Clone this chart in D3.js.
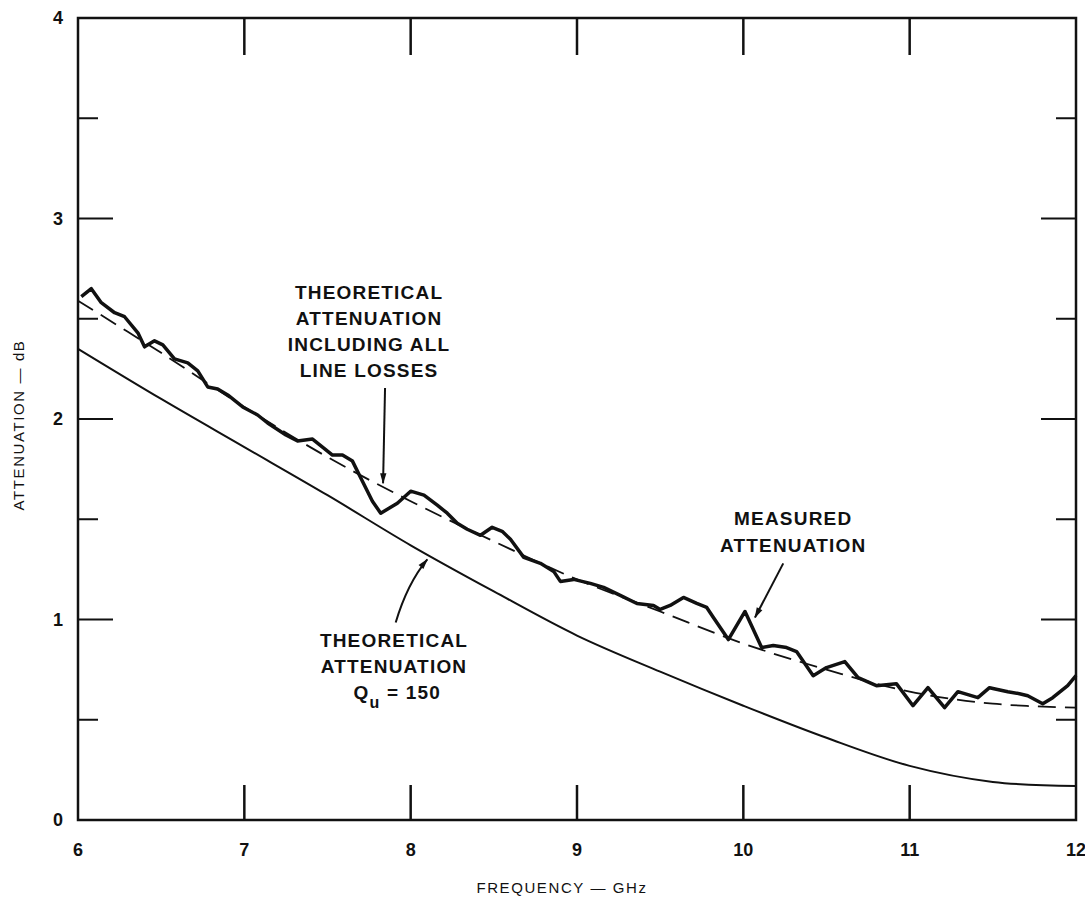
<!DOCTYPE html>
<html lang="en">
<head>
  <meta charset="UTF-8">
  <script src="https://d3js.org/d3.v7.min.js"></script>
  <title>Attenuation vs Frequency</title>
  <style>
    body {
      margin: 0;
      background: #fff;
      font-family: "Liberation Sans", Arial, sans-serif;
    }
    .tick-label {
      font-size: 18px;
      font-weight: bold;
      fill: #111;
    }
    .note {
      font-size: 19px;
      font-weight: bold;
      letter-spacing: 1.2px;
      fill: #111;
    }
    .axis-title {
      font-size: 15px;
      letter-spacing: 1.6px;
      fill: #111;
    }
  </style>
</head>
<body>
<script>

  // --- data ---
  const xTicks = [6, 7, 8, 9, 10, 11, 12];
  const yTicks = [0, 1, 2, 3, 4];
  const yMinorTicks = [0.5, 1.5, 2.5, 3.5];

  // theoretical attenuation, Qu = 150 (solid)
  const theoryFreq = [6, 6.5, 7, 7.5, 8, 8.5, 9, 9.5, 10, 10.5, 11, 11.5, 12];
  const theoryQu = [2.35, 2.10, 1.86, 1.62, 1.37, 1.14, 0.92, 0.74, 0.57, 0.41, 0.27, 0.19, 0.17];
  // theoretical attenuation incl. all line losses (dashed)
  const theoryAll = [2.59, 2.33, 2.06, 1.81, 1.59, 1.39, 1.20, 1.04, 0.88, 0.75, 0.64, 0.58, 0.56];

  // measured attenuation (heavy trace)
  const measFreq = [6.02, 6.08, 6.14, 6.22, 6.28, 6.36, 6.40, 6.46, 6.51, 6.58, 6.66, 6.72, 6.78, 6.84, 6.90,
    6.99, 7.08, 7.14, 7.25, 7.32, 7.41, 7.47, 7.53, 7.59, 7.65, 7.71, 7.77, 7.82, 7.92, 8.00,
    8.08, 8.16, 8.22, 8.28, 8.34, 8.42, 8.49, 8.55, 8.60, 8.68, 8.78, 8.86, 8.90, 8.98, 9.08,
    9.16, 9.26, 9.36, 9.46, 9.50, 9.56, 9.64, 9.72, 9.78, 9.82, 9.91, 10.01, 10.11, 10.18, 10.26,
    10.32, 10.42, 10.50, 10.61, 10.69, 10.80, 10.92, 11.02, 11.11, 11.21, 11.29, 11.41, 11.48, 11.59, 11.66,
    11.71, 11.80, 11.86, 11.95, 12.0];
  const measVal = [2.61, 2.65, 2.58, 2.53, 2.51, 2.43, 2.36, 2.39, 2.37, 2.30, 2.28, 2.24, 2.16, 2.15, 2.12,
    2.06, 2.02, 1.98, 1.92, 1.89, 1.90, 1.86, 1.82, 1.82, 1.79, 1.69, 1.59, 1.53, 1.58, 1.64,
    1.62, 1.57, 1.53, 1.48, 1.45, 1.42, 1.46, 1.44, 1.40, 1.31, 1.28, 1.24, 1.19, 1.20, 1.18,
    1.16, 1.12, 1.08, 1.07, 1.05, 1.07, 1.11, 1.08, 1.06, 1.01, 0.90, 1.04, 0.86, 0.87, 0.86,
    0.84, 0.72, 0.76, 0.79, 0.71, 0.67, 0.68, 0.57, 0.66, 0.56, 0.64, 0.61, 0.66, 0.64, 0.63,
    0.62, 0.58, 0.61, 0.67, 0.72];

  // annotation text
  const noteAll = ["THEORETICAL", "ATTENUATION", "INCLUDING ALL", "LINE LOSSES"];
  const noteMeas = ["MEASURED", "ATTENUATION"];
  const noteQu = ["THEORETICAL", "ATTENUATION"];

  const width = 1085;
  const height = 900;

  const x = d3.scaleLinear().domain([6, 12]).range([78, 1076]);
  const y = d3.scaleLinear().domain([0, 4]).range([820, 18]);

  const svg = d3.select("body").append("svg")
    .attr("width", width)
    .attr("height", height);

  // arrowhead marker
  svg.append("defs").append("marker")
    .attr("id", "head")
    .attr("viewBox", "0 -5 12 10")
    .attr("refX", 11)
    .attr("refY", 0)
    .attr("orient", "auto")
    .attr("markerUnits", "userSpaceOnUse")
    .attr("markerWidth", 16)
    .attr("markerHeight", 9)
    .append("path")
    .attr("d", "M0,-3.5 L12,0 L0,3.5 Z")
    .attr("fill", "#111");

  // frame
  svg.append("rect")
    .attr("x", x(6))
    .attr("y", y(4))
    .attr("width", x(12) - x(6))
    .attr("height", y(0) - y(4))
    .attr("fill", "none")
    .attr("stroke", "#111")
    .attr("stroke-width", 2.5);

  // inward x ticks, top and bottom
  const inner = xTicks.slice(1, -1);
  svg.append("g").selectAll("line.bt")
    .data(inner).enter().append("line")
    .attr("x1", d => x(d)).attr("x2", d => x(d))
    .attr("y1", y(0)).attr("y2", y(0) - 35)
    .attr("stroke", "#111").attr("stroke-width", 2.5);
  svg.append("g").selectAll("line.tt")
    .data(inner).enter().append("line")
    .attr("x1", d => x(d)).attr("x2", d => x(d))
    .attr("y1", y(4)).attr("y2", y(4) + 37)
    .attr("stroke", "#111").attr("stroke-width", 2.5);

  // inward y ticks, left and right (long at integers, short at halves)
  const yTickData = yTicks.slice(1, -1).map(v => ({ v, len: 35 }))
    .concat(yMinorTicks.map(v => ({ v, len: 20 })));
  svg.append("g").selectAll("line")
    .data(yTickData).enter().append("line")
    .attr("x1", x(6)).attr("x2", d => x(6) + d.len)
    .attr("y1", d => y(d.v)).attr("y2", d => y(d.v))
    .attr("stroke", "#111").attr("stroke-width", 2);
  svg.append("g").selectAll("line")
    .data(yTickData).enter().append("line")
    .attr("x1", x(12)).attr("x2", d => x(12) - d.len)
    .attr("y1", d => y(d.v)).attr("y2", d => y(d.v))
    .attr("stroke", "#111").attr("stroke-width", 2);

  // tick labels
  svg.append("g").selectAll("text")
    .data(xTicks).enter().append("text")
    .attr("class", "tick-label")
    .attr("x", d => x(d))
    .attr("y", 856)
    .attr("text-anchor", "middle")
    .text(d => d);
  svg.append("g").selectAll("text")
    .data(yTicks).enter().append("text")
    .attr("class", "tick-label")
    .attr("x", x(6) - 15)
    .attr("y", d => y(d))
    .attr("dy", "0.35em")
    .attr("text-anchor", "end")
    .text(d => d);

  // axis titles
  svg.append("text")
    .attr("class", "axis-title")
    .attr("x", 562)
    .attr("y", 893)
    .attr("text-anchor", "middle")
    .text("FREQUENCY \u2014 GHz");
  svg.append("text")
    .attr("class", "axis-title")
    .attr("transform", "translate(24,425) rotate(-90)")
    .attr("text-anchor", "middle")
    .text("ATTENUATION \u2014 dB");

  // curves
  const lineTheory = d3.line()
    .x((d, i) => x(theoryFreq[i]))
    .y(d => y(d))
    .curve(d3.curveCatmullRom);

  svg.append("path")
    .datum(theoryQu)
    .attr("d", lineTheory)
    .attr("fill", "none")
    .attr("stroke", "#111")
    .attr("stroke-width", 2);

  svg.append("path")
    .datum(theoryAll)
    .attr("d", lineTheory)
    .attr("fill", "none")
    .attr("stroke", "#111")
    .attr("stroke-width", 1.8)
    .attr("stroke-dasharray", "18,9");

  const lineMeas = d3.line()
    .x((d, i) => x(measFreq[i]))
    .y(d => y(d));

  svg.append("path")
    .datum(measVal)
    .attr("d", lineMeas)
    .attr("fill", "none")
    .attr("stroke", "#111")
    .attr("stroke-width", 3.5)
    .attr("stroke-linejoin", "round");

  // annotations
  function noteBlock(lines, cx, firstBase, step) {
    svg.append("g").selectAll("text")
      .data(lines).enter().append("text")
      .attr("class", "note")
      .attr("x", cx)
      .attr("y", (d, i) => firstBase + i * step)
      .attr("text-anchor", "middle")
      .text(d => d);
  }
  noteBlock(noteAll, x(7.75), 299, 26);
  noteBlock(noteMeas, x(10.3), 525, 27);
  noteBlock(noteQu, x(7.90), 647, 26);

  // Q_u = 150 with subscript
  const qu = svg.append("text")
    .attr("class", "note")
    .attr("x", x(7.92))
    .attr("y", 699)
    .attr("text-anchor", "middle");
  qu.append("tspan").text("Q");
  qu.append("tspan").attr("dy", 9).style("font-size", "16px").text("u");
  qu.append("tspan").attr("dy", -9).text(" = 150");

  // arrows
  svg.append("line")
    .attr("x1", x(7.846)).attr("y1", y(2.155))
    .attr("x2", x(7.834)).attr("y2", y(1.68))
    .attr("stroke", "#111").attr("stroke-width", 2)
    .attr("marker-end", "url(#head)");

  svg.append("line")
    .attr("x1", x(10.24)).attr("y1", y(1.28))
    .attr("x2", x(10.07)).attr("y2", y(1.01))
    .attr("stroke", "#111").attr("stroke-width", 2)
    .attr("marker-end", "url(#head)");

  const p0 = [x(7.91), y(0.985)];
  const pc = [x(7.98), y(1.18)];
  const p1 = [x(8.10), y(1.30)];
  svg.append("path")
    .attr("d", `M${p0[0]},${p0[1]} Q${pc[0]},${pc[1]} ${p1[0]},${p1[1]}`)
    .attr("fill", "none")
    .attr("stroke", "#111").attr("stroke-width", 2)
    .attr("marker-end", "url(#head)");

</script>
</body>
</html>
